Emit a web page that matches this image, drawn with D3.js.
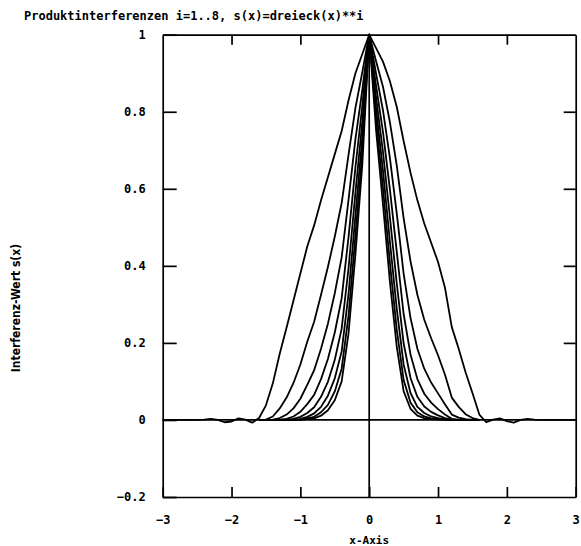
<!DOCTYPE html>
<html>
<head>
<meta charset="utf-8">
<script src="https://cdn.jsdelivr.net/npm/d3@7/dist/d3.min.js"></script>
<style>
  body { margin: 0; background: #fff; }
  text { font-family: "DejaVu Sans Mono", monospace; font-weight: bold; fill: #000; }
  .ylab { font-family: "Liberation Sans Narrow", "DejaVu Sans Condensed", sans-serif; }
</style>
</head>
<body>
<svg id="chart" width="581" height="546"></svg>
<script>
// grid for the first curve (i=1), whole x range
const xAll = d3.range(61).map(i => Math.round((-3 + i * 0.1) * 10) / 10);
const s1 = [
  0, 0, 0, 0, 0, 0, 0.001, 0.003, 0, -0.006, -0.004, 0.004, 0.001, -0.007,
  0.005, 0.038, 0.095, 0.172, 0.24, 0.31, 0.38, 0.45, 0.505, 0.57, 0.63, 0.69, 0.75, 0.83, 0.90, 0.95,
  1,
  0.965, 0.93, 0.88, 0.813, 0.724, 0.642, 0.57, 0.51, 0.46, 0.41, 0.344, 0.241, 0.185, 0.124, 0.07, 0.014,
  -0.006, 0.001, 0.004, -0.003, -0.007, 0, 0.003, 0.001, 0, 0, 0, 0, 0, 0
];

// grid for the higher powers, -1.6 .. 1.6 (outside they lie on the zero line)
const xCore = d3.range(33).map(i => Math.round((-1.6 + i * 0.1) * 10) / 10);
const s2 = [0, 0.001, 0.009, 0.030, 0.058, 0.096, 0.144, 0.203, 0.255, 0.325, 0.397, 0.476, 0.563, 0.689, 0.810, 0.903,
  1, 0.931, 0.865, 0.774, 0.661, 0.524, 0.412, 0.325, 0.260, 0.212, 0.168, 0.118, 0.058, 0.034, 0.015, 0.005, 0];
const s3 = [0, 0, 0.001, 0.005, 0.014, 0.030, 0.055, 0.091, 0.129, 0.185, 0.250, 0.329, 0.422, 0.572, 0.729, 0.857,
  1, 0.899, 0.804, 0.681, 0.537, 0.380, 0.265, 0.185, 0.133, 0.097, 0.069, 0.041, 0.014, 0.006, 0.002, 0, 0];
const s4 = [0, 0, 0, 0.001, 0.003, 0.009, 0.021, 0.041, 0.065, 0.106, 0.158, 0.227, 0.316, 0.475, 0.656, 0.815,
  1, 0.867, 0.748, 0.600, 0.437, 0.275, 0.170, 0.106, 0.068, 0.045, 0.028, 0.014, 0.003, 0.001, 0, 0, 0];
const s5 = [0, 0, 0, 0, 0.001, 0.003, 0.008, 0.018, 0.033, 0.060, 0.099, 0.156, 0.237, 0.394, 0.590, 0.774,
  1, 0.837, 0.696, 0.528, 0.355, 0.199, 0.109, 0.060, 0.035, 0.021, 0.012, 0.005, 0.001, 0, 0, 0, 0];
const s6 = [0, 0, 0, 0, 0, 0.001, 0.003, 0.008, 0.017, 0.034, 0.063, 0.108, 0.178, 0.327, 0.531, 0.735,
  1, 0.808, 0.647, 0.464, 0.289, 0.144, 0.070, 0.034, 0.018, 0.009, 0.005, 0.002, 0, 0, 0, 0, 0];
const s7 = [0, 0, 0, 0, 0, 0, 0.001, 0.004, 0.008, 0.020, 0.039, 0.074, 0.133, 0.271, 0.478, 0.698,
  1, 0.779, 0.602, 0.409, 0.235, 0.104, 0.045, 0.020, 0.009, 0.004, 0.002, 0.001, 0, 0, 0, 0, 0];
const s8 = [0, 0, 0, 0, 0, 0, 0, 0.002, 0.004, 0.011, 0.025, 0.051, 0.100, 0.225, 0.430, 0.663,
  1, 0.752, 0.560, 0.360, 0.191, 0.075, 0.029, 0.011, 0.005, 0.002, 0.001, 0, 0, 0, 0, 0, 0];

const xTicks = [-3, -2, -1, 0, 1, 2, 3];
const yTicks = [-0.2, 0, 0.2, 0.4, 0.6, 0.8, 1];

const titleText = "Produktinterferenzen i=1..8, s(x)=dreieck(x)**i";
const xTitle = "x-Axis";
const yTitle = "Interferenz-Wert s(x)";

const svg = d3.select("#chart");
const x = d3.scaleLinear().domain([-3, 3]).range([162.7, 575.7]);
const y = d3.scaleLinear().domain([-0.2, 1]).range([497, 34.7]);

function styleAxis(g) {
  g.selectAll("path.domain").attr("stroke", "#000").attr("stroke-width", 1.7);
  g.selectAll(".tick line").attr("stroke", "#000").attr("stroke-width", 1.7);
  g.selectAll(".tick text").attr("font-size", 12).attr("font-family", null);
}

// bottom axis with labels
svg.append("g")
  .attr("transform", `translate(0,${y(-0.2)})`)
  .call(d3.axisBottom(x).tickValues(xTicks).tickSizeInner(-10).tickSizeOuter(0).tickPadding(18)
    .tickFormat(d3.format("d")))
  .call(styleAxis);

// top edge
svg.append("g")
  .attr("transform", `translate(0,${y(1)})`)
  .call(d3.axisTop(x).tickValues([-2, -1, 1, 2]).tickSizeInner(-10).tickSizeOuter(0).tickFormat(""))
  .call(styleAxis);

// left axis with labels
svg.append("g")
  .attr("transform", `translate(${x(-3)},0)`)
  .call(d3.axisLeft(y).tickValues(yTicks).tickSizeInner(-14).tickSizeOuter(0).tickPadding(17)
    .tickFormat(d => d3.format("")(d).replace("-", "\u2212")))
  .call(styleAxis);

// right edge
svg.append("g")
  .attr("transform", `translate(${x(3)},0)`)
  .call(d3.axisRight(y).tickValues([0.2, 0.4, 0.6, 0.8]).tickSizeInner(-12).tickSizeOuter(0).tickFormat(""))
  .call(styleAxis);

// zero lines
svg.append("line")
  .attr("x1", x(-3)).attr("x2", x(3)).attr("y1", y(0)).attr("y2", y(0))
  .attr("stroke", "#000").attr("stroke-width", 1.7);
svg.append("line")
  .attr("x1", x(0)).attr("x2", x(0)).attr("y1", y(1)).attr("y2", y(-0.2))
  .attr("stroke", "#000").attr("stroke-width", 1.7);

// curves
const line = d3.line().x(d => x(d[0])).y(d => y(d[1]));
const curves = [d3.zip(xAll, s1)].concat([s2, s3, s4, s5, s6, s7, s8].map(s => d3.zip(xCore, s)));

svg.append("g")
  .selectAll("path")
  .data(curves)
  .enter().append("path")
    .attr("d", line)
    .attr("fill", "none")
    .attr("stroke", "#000")
    .attr("stroke-width", 1.8)
    .attr("stroke-linejoin", "round");

// texts
svg.append("text")
  .attr("x", 24).attr("y", 20)
  .attr("font-size", 12)
  .text(titleText);

svg.append("text")
  .attr("x", x(0)).attr("y", 540)
  .attr("dominant-baseline", "central")
  .attr("text-anchor", "middle")
  .attr("font-size", 11)
  .text(xTitle);

svg.append("text")
  .attr("class", "ylab")
  .attr("transform", "translate(20,308) rotate(-90)")
  .attr("text-anchor", "middle")
  .attr("font-size", 12)
  .text(yTitle);
</script>
</body>
</html>
